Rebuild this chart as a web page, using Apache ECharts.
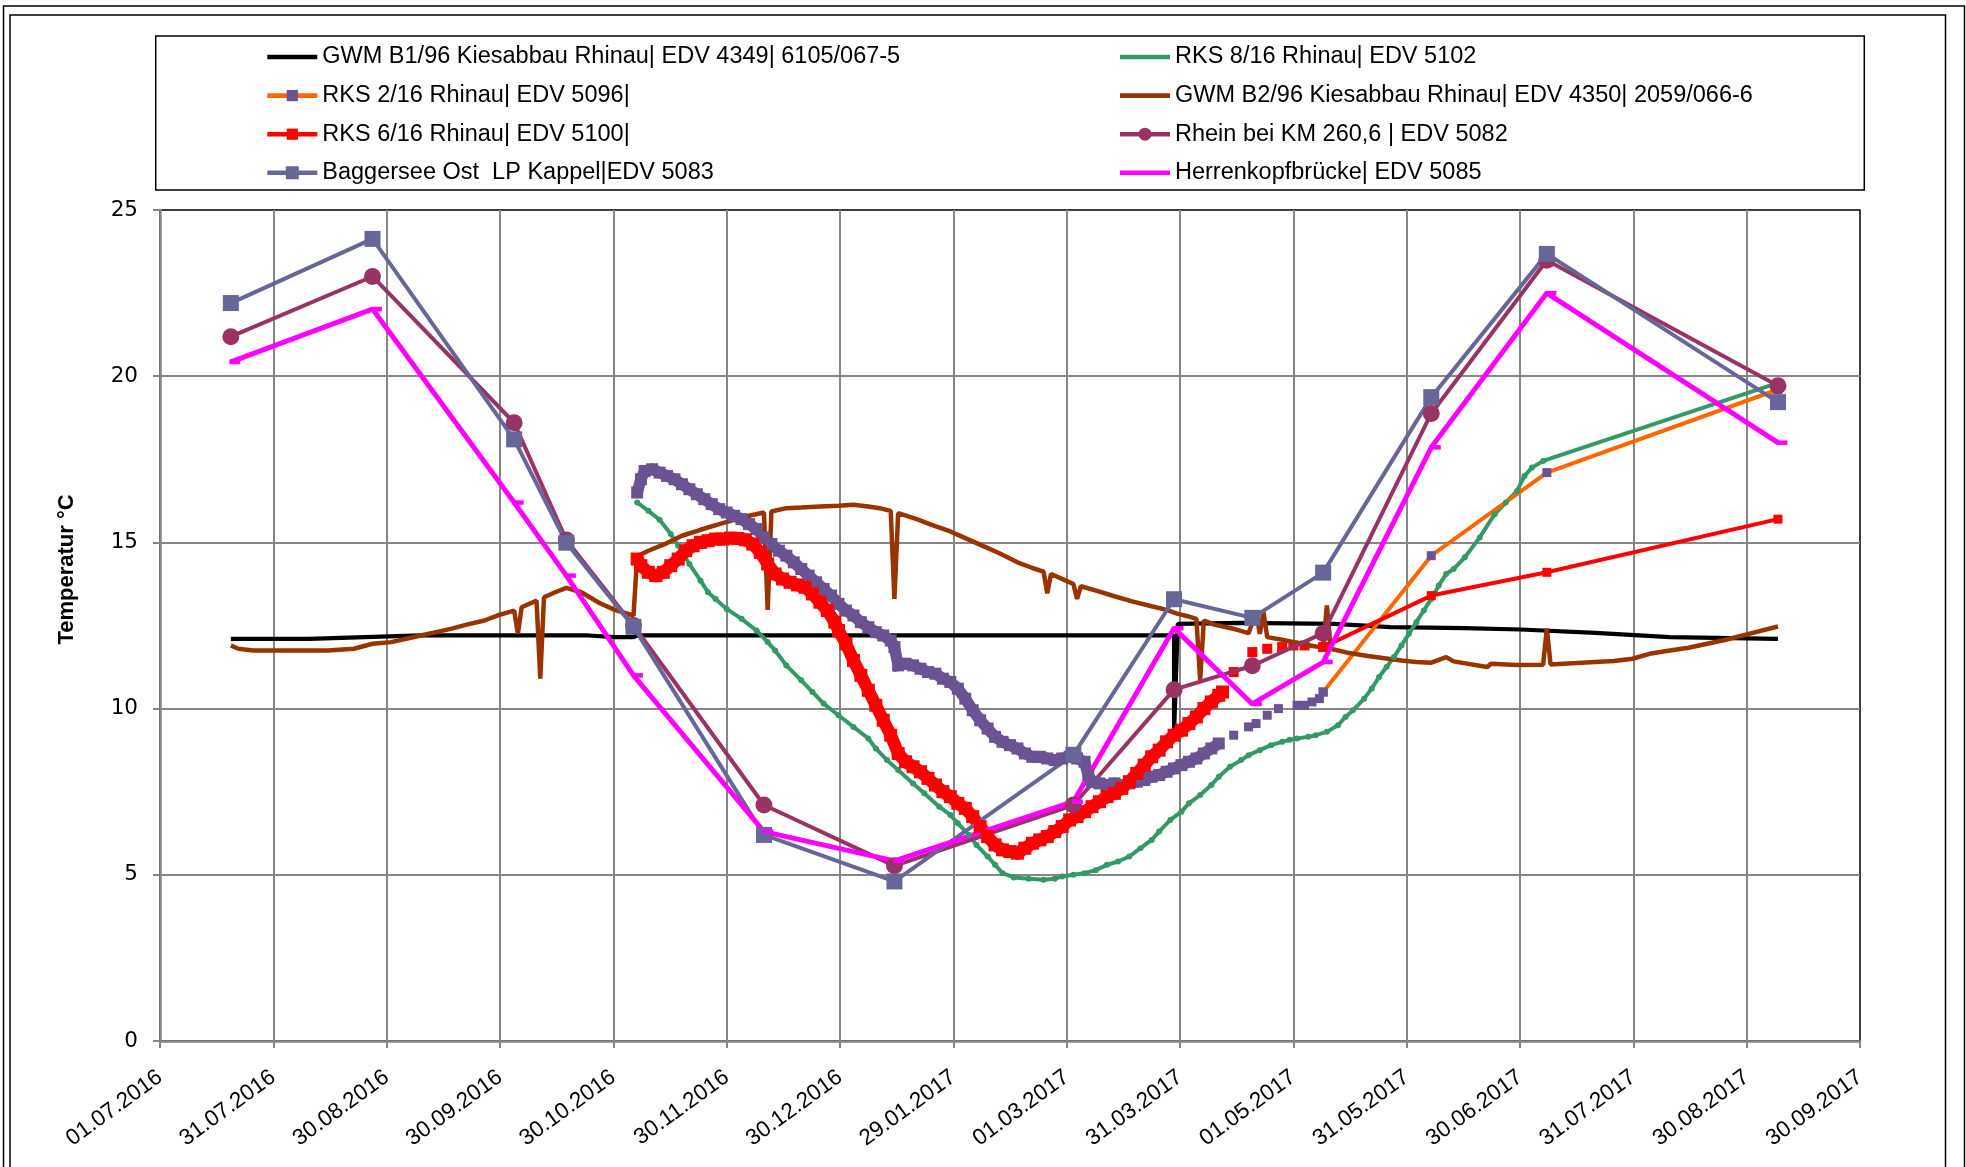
<!DOCTYPE html>
<html><head><meta charset="utf-8">
<script src="https://cdn.jsdelivr.net/npm/echarts@6/dist/echarts.min.js"></script>
<style>html,body{margin:0;padding:0;background:#fff}#c{width:1966px;height:1167px}</style>
</head><body><div id="c"></div>
<script>
// ---------------- DATA ----------------
const axisStartDate = '2016-07-01';
const axisEndDate = '2017-09-30';
const axisTickCount = 15;
const yTicks = [0, 5, 10, 15, 20, 25];

const seriesNames = [
  'GWM B1/96 Kiesabbau Rhinau| EDV 4349| 6105/067-5',
  'RKS 8/16 Rhinau| EDV 5102',
  'RKS 2/16 Rhinau| EDV 5096|',
  'GWM B2/96 Kiesabbau Rhinau| EDV 4350| 2059/066-6',
  'RKS 6/16 Rhinau| EDV 5100|',
  'Rhein bei KM 260,6 | EDV 5082',
  'Baggersee Ost  LP Kappel|EDV 5083',
  'Herrenkopfbrücke| EDV 5085'
];

// sampling days of the surface-water stations
const samplingDates = ['2016-07-20','2016-08-27','2016-10-04','2016-10-18','2016-11-05','2016-12-10','2017-01-14',
  '2017-03-03','2017-03-30','2017-04-20','2017-05-09','2017-06-07','2017-07-08','2017-09-08'];
const baggerseeValues  = [22.2, 24.13, 18.1, 14.99, 12.46, 6.2, 4.8, 8.61, 13.29, 12.73, 14.09, 19.37, 23.68, 19.22];
const rheinValues      = [21.19, 23.0, 18.6, 15.07, 12.5, 7.1, 5.27, 7.1, 10.57, 11.29, 12.27, 18.88, 23.49, 19.71];
const herrenkopfValues = [20.43, 22.02, 16.2, 14.0, 11.0, 6.3, 5.42, 7.2, 12.42, 10.14, 11.4, 17.86, 22.5, 18.0];

const gwmB1 = [['2016-07-20',12.1],['2016-08-10',12.1],['2016-08-25',12.15],['2016-09-09',12.2],['2016-10-19',12.2],
  ['2016-10-24',12.2],['2016-10-31',12.15],['2016-11-05',12.15],['2016-11-06',12.2],['2017-03-30',12.2],['2017-03-30',9.25],
  ['2017-03-31',12.55],['2017-04-17',12.58],['2017-05-12',12.55],['2017-05-27',12.45],['2017-06-16',12.42],
  ['2017-07-01',12.38],['2017-07-21',12.28],['2017-08-10',12.15],['2017-09-08',12.1]];

const gwmB2 = [['2016-07-20',11.9],['2016-07-22',11.8],['2016-07-26',11.75],['2016-08-05',11.75],['2016-08-15',11.75],
  ['2016-08-22',11.8],['2016-08-27',11.95],['2016-09-01',12.0],['2016-09-05',12.1],['2016-09-09',12.2],['2016-09-13',12.3],
  ['2016-09-17',12.4],['2016-09-21',12.52],['2016-09-26',12.65],['2016-09-30',12.82],['2016-10-04',12.95],['2016-10-05',12.25],
  ['2016-10-06',13.05],['2016-10-09',13.2],['2016-10-10',13.25],['2016-10-11',10.9],['2016-10-12',13.35],['2016-10-15',13.5],
  ['2016-10-18',13.63],['2016-10-22',13.5],['2016-10-27',13.17],['2016-10-31',12.97],['2016-11-05',12.8],['2016-11-06',14.58],
  ['2016-11-09',14.75],['2016-11-14',14.98],['2016-11-18',15.2],['2016-11-23',15.38],['2016-11-28',15.55],['2016-12-02',15.68],
  ['2016-12-06',15.8],['2016-12-10',15.9],['2016-12-11',12.97],['2016-12-12',15.93],['2016-12-16',16.03],['2016-12-20',16.05],
  ['2016-12-25',16.08],['2016-12-30',16.1],['2017-01-03',16.13],['2017-01-07',16.08],['2017-01-10',16.03],['2017-01-13',15.95],
  ['2017-01-14',13.3],['2017-01-15',15.88],['2017-01-20',15.7],['2017-01-24',15.53],['2017-01-29',15.33],['2017-02-02',15.13],
  ['2017-02-07',14.88],['2017-02-11',14.68],['2017-02-16',14.4],['2017-02-20',14.23],['2017-02-23',14.12],['2017-02-24',13.47],
  ['2017-02-25',14.05],['2017-03-01',13.85],['2017-03-03',13.75],['2017-03-04',13.3],['2017-03-05',13.68],['2017-03-10',13.52],
  ['2017-03-14',13.38],['2017-03-19',13.22],['2017-03-24',13.08],['2017-03-28',12.97],['2017-03-31',12.85],['2017-04-03',12.77],
  ['2017-04-05',12.7],['2017-04-06',10.86],['2017-04-07',12.65],['2017-04-10',12.52],['2017-04-15',12.4],['2017-04-19',12.27],
  ['2017-04-21',12.9],['2017-04-22',12.25],['2017-04-23',12.9],['2017-04-24',12.15],['2017-04-28',12.07],['2017-05-03',11.95],
  ['2017-05-07',11.87],['2017-05-09',11.85],['2017-05-10',13.1],['2017-05-11',11.8],['2017-05-16',11.67],['2017-05-21',11.58],
  ['2017-05-25',11.52],['2017-05-30',11.45],['2017-06-03',11.4],['2017-06-07',11.38],['2017-06-11',11.55],['2017-06-13',11.42],
  ['2017-06-22',11.25],['2017-06-23',11.35],['2017-06-30',11.31],['2017-07-07',11.32],['2017-07-08',12.41],['2017-07-09',11.33],
  ['2017-07-16',11.37],['2017-07-26',11.43],['2017-07-31',11.5],['2017-08-05',11.66],['2017-08-10',11.75],['2017-08-15',11.83],
  ['2017-08-20',11.95],['2017-08-25',12.07],['2017-09-02',12.3],['2017-09-08',12.47]];

const rks8 = [['2016-11-06',16.2],['2016-11-09',15.95],['2016-11-12',15.68],['2016-11-15',15.25],['2016-11-17',14.9],
  ['2016-11-20',14.35],['2016-11-23',13.85],['2016-11-25',13.5],['2016-11-27',13.3],['2016-11-30',13.0],['2016-12-04',12.7],
  ['2016-12-08',12.35],['2016-12-11',12.0],['2016-12-13',11.75],['2016-12-16',11.3],['2016-12-20',10.85],['2016-12-23',10.5],
  ['2016-12-26',10.15],['2016-12-30',9.8],['2017-01-03',9.45],['2017-01-07',9.1],['2017-01-09',8.8],['2017-01-12',8.45],
  ['2017-01-15',8.15],['2017-01-19',7.75],['2017-01-22',7.45],['2017-01-26',7.05],['2017-01-29',6.8],['2017-01-31',6.55],
  ['2017-02-03',6.2],['2017-02-05',5.9],['2017-02-08',5.55],['2017-02-10',5.3],['2017-02-12',5.05],['2017-02-15',4.92],
  ['2017-02-19',4.88],['2017-02-23',4.85],['2017-02-26',4.88],['2017-02-28',4.95],['2017-03-03',5.0],['2017-03-06',5.05],
  ['2017-03-09',5.14],['2017-03-12',5.3],['2017-03-15',5.4],['2017-03-18',5.55],['2017-03-21',5.8],['2017-03-24',6.05],
  ['2017-03-26',6.3],['2017-03-29',6.65],['2017-04-01',6.9],['2017-04-03',7.15],['2017-04-06',7.4],['2017-04-09',7.7],
  ['2017-04-11',7.95],['2017-04-14',8.25],['2017-04-17',8.45],['2017-04-19',8.6],['2017-04-22',8.75],['2017-04-25',8.9],
  ['2017-04-28',9.0],['2017-04-30',9.06],['2017-05-02',9.1],['2017-05-05',9.15],['2017-05-07',9.2],['2017-05-10',9.3],
  ['2017-05-13',9.5],['2017-05-15',9.75],['2017-05-17',9.95],['2017-05-20',10.3],['2017-05-22',10.6],['2017-05-24',10.95],
  ['2017-05-26',11.25],['2017-05-28',11.55],['2017-05-30',11.9],['2017-06-01',12.25],['2017-06-03',12.6],['2017-06-05',12.95],
  ['2017-06-07',13.3],['2017-06-09',13.7],['2017-06-11',14.05],['2017-06-13',14.2],['2017-06-16',14.55],['2017-06-20',15.15],
  ['2017-06-24',15.85],['2017-06-27',16.2],['2017-06-30',16.55],['2017-07-02',17.0],['2017-07-04',17.25],['2017-07-07',17.45],
  ['2017-09-08',19.8]];

// RKS 2/16: continuous logger readings, isolated readings, manual samples
const rks2Logger = [['2016-11-06',16.5],['2016-11-07',16.9],['2016-11-08',17.15],['2016-11-10',17.2],['2016-11-12',17.1],
  ['2016-11-14',17.0],['2016-11-16',16.9],['2016-11-18',16.75],['2016-11-20',16.6],['2016-11-22',16.45],['2016-11-24',16.3],
  ['2016-11-26',16.15],['2016-11-28',16.0],['2016-11-30',15.9],['2016-12-02',15.8],['2016-12-04',15.7],['2016-12-06',15.55],
  ['2016-12-08',15.4],['2016-12-10',15.15],['2016-12-12',14.95],['2016-12-14',14.75],['2016-12-16',14.6],['2016-12-18',14.4],
  ['2016-12-20',14.2],['2016-12-22',14.0],['2016-12-24',13.8],['2016-12-26',13.6],['2016-12-28',13.4],['2016-12-30',13.15],
  ['2017-01-01',12.95],['2017-01-03',12.8],['2017-01-05',12.6],['2017-01-07',12.45],['2017-01-09',12.3],['2017-01-11',12.2],
  ['2017-01-13',12.05],['2017-01-14',11.85],['2017-01-15',11.3],['2017-01-17',11.35],['2017-01-19',11.3],['2017-01-21',11.2],
  ['2017-01-23',11.1],['2017-01-25',11.05],['2017-01-27',10.9],['2017-01-29',10.8],['2017-01-31',10.6],['2017-02-02',10.3],
  ['2017-02-04',9.95],['2017-02-06',9.65],['2017-02-08',9.4],['2017-02-10',9.15],['2017-02-12',9.0],['2017-02-14',8.9],
  ['2017-02-16',8.8],['2017-02-18',8.65],['2017-02-20',8.55],['2017-02-22',8.55],['2017-02-24',8.5],['2017-02-26',8.45],
  ['2017-02-28',8.5],['2017-03-02',8.55],['2017-03-04',8.5],['2017-03-06',8.4],['2017-03-07',8.0],['2017-03-08',7.8],
  ['2017-03-10',7.75],['2017-03-12',7.7],['2017-03-14',7.75],['2017-03-16',7.7],['2017-03-18',7.75],['2017-03-20',7.8],
  ['2017-03-22',7.85],['2017-03-24',7.95],['2017-03-26',8.0],['2017-03-28',8.1],['2017-03-30',8.2],['2017-04-01',8.3],
  ['2017-04-03',8.4],['2017-04-05',8.5],['2017-04-07',8.65],['2017-04-09',8.8],['2017-04-11',8.95]];
const rks2Isolated = [['2017-04-15',9.2],['2017-04-19',9.45],['2017-04-21',9.55],['2017-04-24',9.8],['2017-04-27',10.0],
  ['2017-05-02',10.1],['2017-05-04',10.1],['2017-05-06',10.2],['2017-05-08',10.3],['2017-05-09',10.5]];
const rks2Samples = [['2017-05-09',10.5],['2017-06-07',14.6],['2017-07-08',17.1],['2017-09-08',19.6]];

// RKS 6/16
const rks6Logger = [['2016-11-06',14.5],['2016-11-07',14.3],['2016-11-09',14.1],['2016-11-11',14.0],['2016-11-13',14.1],
  ['2016-11-15',14.3],['2016-11-17',14.5],['2016-11-19',14.75],['2016-11-21',14.9],['2016-11-23',15.0],['2016-11-25',15.05],
  ['2016-11-27',15.1],['2016-11-29',15.1],['2016-12-01',15.13],['2016-12-03',15.12],['2016-12-05',15.08],['2016-12-07',14.95],
  ['2016-12-09',14.7],['2016-12-11',14.35],['2016-12-13',14.05],['2016-12-15',13.9],['2016-12-17',13.8],['2016-12-19',13.72],
  ['2016-12-21',13.65],['2016-12-23',13.45],['2016-12-25',13.2],['2016-12-27',12.95],['2016-12-29',12.6],['2016-12-30',12.35],
  ['2017-01-01',11.95],['2017-01-03',11.45],['2017-01-05',11.0],['2017-01-07',10.55],['2017-01-09',10.1],['2017-01-11',9.65],
  ['2017-01-13',9.2],['2017-01-15',8.65],['2017-01-17',8.4],['2017-01-19',8.25],['2017-01-21',8.1],['2017-01-23',7.9],
  ['2017-01-25',7.7],['2017-01-27',7.5],['2017-01-29',7.35],['2017-01-31',7.15],['2017-02-02',7.0],['2017-02-04',6.75],
  ['2017-02-06',6.45],['2017-02-08',6.15],['2017-02-10',5.9],['2017-02-12',5.75],['2017-02-14',5.7],['2017-02-16',5.65],
  ['2017-02-18',5.8],['2017-02-20',5.95],['2017-02-22',6.05],['2017-02-24',6.15],['2017-02-26',6.3],['2017-02-28',6.45],
  ['2017-03-02',6.65],['2017-03-04',6.75],['2017-03-06',6.9],['2017-03-08',7.05],['2017-03-10',7.2],['2017-03-12',7.35],
  ['2017-03-14',7.45],['2017-03-16',7.6],['2017-03-18',7.8],['2017-03-20',8.05],['2017-03-22',8.3],['2017-03-24',8.55],
  ['2017-03-26',8.75],['2017-03-28',9.0],['2017-03-30',9.2],['2017-04-01',9.35],['2017-04-03',9.55],['2017-04-05',9.75],
  ['2017-04-07',10.0],['2017-04-09',10.2],['2017-04-11',10.4],['2017-04-12',10.5]];
const rks6Isolated = [['2017-04-15',11.1],['2017-04-20',11.7],['2017-04-24',11.8],['2017-04-28',11.85],['2017-05-01',11.9],
  ['2017-05-04',11.9],['2017-05-09',11.85]];
const rks6Samples = [['2017-05-09',11.85],['2017-06-07',13.4],['2017-07-08',14.1],['2017-09-08',15.7]];

// ---------------- HELPERS ----------------
function utc(s){ const p = s.split('-').map(Number); return Date.UTC(p[0], p[1]-1, p[2]); }
const DAY = 86400000;
const base = utc(axisStartDate);
const axisMax = (utc(axisEndDate) - base) / DAY;
const axisInterval = axisMax / axisTickCount;
function dayOf(s){ return (utc(s) - base) / DAY; }
function pad(n){ return (n < 10 ? '0' : '') + n; }
function fmtDate(v){
  const d = new Date(base + Math.floor(v + 1e-6) * DAY);
  return pad(d.getUTCDate()) + '.' + pad(d.getUTCMonth()+1) + '.' + d.getUTCFullYear();
}
function pairs(arr){ return arr.map(p => [dayOf(p[0]), p[1]]); }
function zip(dates, vals){ return dates.map((d,i) => [dayOf(d), vals[i]]); }

// legend icons (50 x 14 box; tiny corner points only fix the bounding box)
const box = 'M0,0L0.01,0L0.01,0.01Z M50,14L49.99,14L49.99,13.99Z ';
const bar = 'M0,4.7L50,4.7L50,9.3L0,9.3Z ';
const lineIcon = 'path://' + box + bar;
const squareIcon = 'path://' + box + bar + 'M18.5,0.5L31.5,0.5L31.5,13.5L18.5,13.5Z';
const circleIcon = 'path://' + box + bar + 'M18.5,7A6.5,6.5 0 1 1 31.5,7A6.5,6.5 0 1 1 18.5,7Z';

const C = {
  black:'#000000', green:'#339966', orange:'#FF6600', purple:'#6B5293', brown:'#993300',
  red:'#FF0000', rhein:'#993366', bagger:'#666699', magenta:'#FF00FF'
};

const legendText = {fontSize:23.5, color:'#000', fontFamily:'Liberation Sans'};
const legendCommon = {
  orient:'vertical', top:40, itemWidth:50, itemHeight:14, itemGap:14.6, selectedMode:false,
  textStyle:legendText, itemStyle:{borderWidth:0}, padding:5
};

const chart = echarts.init(document.getElementById('c'), null, {renderer:'canvas'});
chart.setOption({
  animation:false,
  backgroundColor:'#fff',
  grid:{left:160, top:210, right:106, bottom:126, show:true, borderColor:'#000', borderWidth:1.5,
        backgroundColor:'transparent', containLabel:false, outerBoundsMode:'none'},
  xAxis:{
    type:'value', min:0, max:axisMax, interval:axisInterval,
    axisLine:{show:true, onZero:false, lineStyle:{color:'#868686', width:2.5}},
    axisTick:{show:true, length:7, lineStyle:{color:'#868686', width:2}},
    splitLine:{show:true, showMaxLine:false, showMinLine:false, lineStyle:{color:'#868686', width:2}},
    axisLabel:{rotate:36, margin:34, fontSize:22.5, color:'#000', fontFamily:'Liberation Sans',
               formatter:fmtDate, showMinLabel:true, showMaxLabel:true}
  },
  yAxis:{
    type:'value', min:yTicks[0], max:yTicks[yTicks.length-1], interval:yTicks[1]-yTicks[0],
    name:'Temperatur °C', nameLocation:'middle', nameGap:82, nameRotate:90,
    nameTextStyle:{fontSize:22, fontWeight:'bold', color:'#000', fontFamily:'Liberation Sans', padding:[0,0,0,112]},
    axisLine:{show:true, lineStyle:{color:'#868686', width:2.5}},
    axisTick:{show:true, length:7, lineStyle:{color:'#868686', width:2}},
    splitLine:{show:true, showMaxLine:false, showMinLine:false, lineStyle:{color:'#868686', width:2}},
    axisLabel:{fontSize:21.5, fontFamily:'DejaVu Sans', color:'#000', margin:22}
  },
  legend:[
    Object.assign({left:260, data:[
      {name:seriesNames[0], icon:lineIcon},
      {name:seriesNames[2], lineStyle:{width:4.6}},
      {name:seriesNames[4], lineStyle:{width:4.6}},
      {name:seriesNames[6], icon:squareIcon}
    ]}, legendCommon),
    Object.assign({left:1115, data:[
      {name:seriesNames[1], icon:lineIcon},
      {name:seriesNames[3], icon:lineIcon},
      {name:seriesNames[5], icon:circleIcon},
      {name:seriesNames[7], icon:lineIcon}
    ]}, legendCommon)
  ],
  graphic:[
    {type:'rect', silent:true, shape:{x:3.5, y:6, width:1961, height:1180}, style:{fill:'none', stroke:'#000', lineWidth:1.5}},
    {type:'rect', silent:true, shape:{x:10, y:15, width:1935.5, height:1180}, style:{fill:'none', stroke:'#000', lineWidth:1.5}},
    {type:'rect', silent:true, shape:{x:155.7, y:36, width:1708.6, height:154}, style:{fill:'none', stroke:'#000', lineWidth:1.5}}
  ],
  series:[
    {name:seriesNames[0], type:'line', data:pairs(gwmB1), symbol:'none', color:C.black,
     lineStyle:{color:C.black, width:4.2}},
    {name:seriesNames[1], type:'line', data:pairs(rks8), symbol:'circle', symbolSize:6, color:C.green,
     itemStyle:{color:C.green, borderWidth:0}, lineStyle:{color:C.green, width:4}},
    {name:seriesNames[2], type:'line', data:pairs(rks2Samples), symbol:'rect', symbolSize:9, color:C.purple,
     itemStyle:{color:C.purple, borderWidth:0}, lineStyle:{color:C.orange, width:4}},
    {name:seriesNames[2], type:'line', data:pairs(rks2Logger), symbol:'rect', symbolSize:12, color:C.purple,
     itemStyle:{color:C.purple, borderWidth:0}, lineStyle:{color:C.purple, width:11.5, join:'miter'}},
    {name:seriesNames[2], type:'scatter', data:pairs(rks2Isolated), symbol:'rect', symbolSize:9,
     itemStyle:{color:C.purple, opacity:1}},
    {name:seriesNames[3], type:'line', data:pairs(gwmB2), symbol:'none', color:C.brown,
     lineStyle:{color:C.brown, width:4.5}},
    {name:seriesNames[4], type:'line', data:pairs(rks6Samples), symbol:'rect', symbolSize:9, color:C.red,
     itemStyle:{color:C.red, borderWidth:0}, lineStyle:{color:C.red, width:4}},
    {name:seriesNames[4], type:'line', data:pairs(rks6Logger), symbol:'rect', symbolSize:13, color:C.red,
     itemStyle:{color:C.red, borderWidth:0}, lineStyle:{color:C.red, width:12.5, join:'miter'}},
    {name:seriesNames[4], type:'scatter', data:pairs(rks6Isolated), symbol:'rect', symbolSize:10,
     itemStyle:{color:C.red, opacity:1}},
    {name:seriesNames[5], type:'line', data:zip(samplingDates, rheinValues), symbol:'circle', symbolSize:17, color:C.rhein,
     itemStyle:{color:C.rhein, borderWidth:0}, lineStyle:{color:C.rhein, width:4}},
    {name:seriesNames[6], type:'line', data:zip(samplingDates, baggerseeValues), symbol:'rect', symbolSize:16, color:C.bagger,
     itemStyle:{color:C.bagger, borderWidth:0}, lineStyle:{color:C.bagger, width:4}},
    {name:seriesNames[7], type:'line', data:zip(samplingDates, herrenkopfValues), symbol:'rect', symbolSize:[11,4.5],
     symbolOffset:[4,0], color:C.magenta, itemStyle:{color:C.magenta, borderWidth:0}, lineStyle:{color:C.magenta, width:5}}
  ]
});
</script>
</body></html>
